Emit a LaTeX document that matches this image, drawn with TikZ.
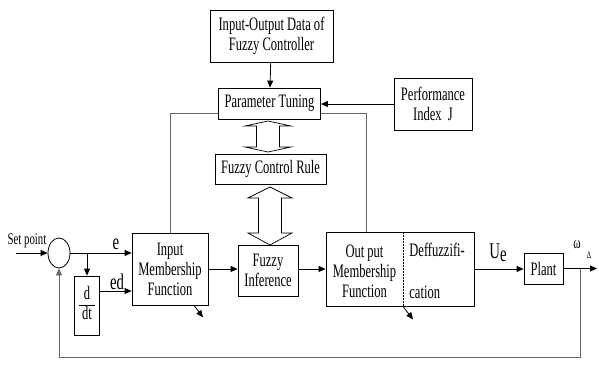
\documentclass[tikz,border=0pt]{standalone}
\usepackage{fontspec}
\setmainfont{Liberation Serif}[FakeStretch=0.66]
\usetikzlibrary{arrows.meta,shapes.geometric}

\begin{document}
\begin{tikzpicture}[x=1pt, y=-1pt,
        font=\fontsize{19}{20}\selectfont, line width=0.8pt,
        blk/.style={draw, inner sep=0pt, align=center},
        arr/.style={-{Triangle[length=7pt,width=6pt]}},
        gline/.style={black!60},
        hollow/.style={draw, fill=white, line width=0.7pt},
        lbl/.style={inner sep=0pt, align=center}
      ]
        \useasboundingbox (0,0) rectangle (599,367);
        % tuning level
        \node[blk, minimum width=123pt, minimum height=52pt] (iodat) at (271.5,36) {Input-Output Data of\\Fuzzy Controller};
        \node[blk, minimum width=102pt, minimum height=31pt] (tune) at (269.5,103.5) {Parameter Tuning};
        \node[blk, minimum width=78pt, minimum height=52pt] (perf) at (433,104) {Performance\\Index~ J};
        \node[blk, minimum width=111pt, minimum height=30pt] (rule) at (270.5,169) {Fuzzy Control Rule};
        % control loop
        \node[draw, ellipse, inner sep=0pt, minimum width=22pt, minimum height=30pt] (sum) at (59,253) {};
        \node[blk, minimum width=25pt, minimum height=59pt] (ddt) at (87,305.5) {\begin{tabular}{@{\,}c@{\,}}d\\\hline dt\end{tabular}};
        \node[blk, minimum width=76pt, minimum height=72pt] (imf) at (170,269) {Input\\Membership\\Function};
        \node[blk, minimum width=60pt, minimum height=51pt] (fi) at (268,270.5) {Fuzzy\\Inference};
        \node[blk, minimum width=148pt, minimum height=74pt] (out) at (400,269) {};
        \node[lbl] (omf) at (364.5,271) {Out put\\Membership\\Function};
        \node[lbl, anchor=west] (dfz) at (409,250) {Deffuzzifi-};
        \node[lbl, anchor=west] (cat) at (409,292) {cation};
        \node[blk, minimum width=39pt, minimum height=31pt] (plant) at (543.5,268.5) {Plant};
        % signal labels
        \node[lbl, font=\fontsize{16.3}{17}\selectfont] (lsp) at (27,241) {Set point};
        \node[lbl, font=\fontsize{22.4}{24}\selectfont] (le) at (116,244) {e};
        \node[lbl, font=\fontsize{22.4}{24}\selectfont] (led) at (117,281.5) {ed};
        \node[lbl, font=\fontsize{22.4}{24}\selectfont] (lue) at (498,253) {U\raisebox{-3pt}{e}};
        \node[lbl, font=\fontsize{16.8}{18}\selectfont] (lw) at (577,245) {ω};
        \node[lbl, font=\fontsize{10}{11}\selectfont] (ldl) at (589,255) {Δ};
        \coordinate (sp) at (16,253);
        \coordinate (br) at (87,253);
        \coordinate (y) at (597,268.5);
        \coordinate (fb) at (580,268.5);
        \coordinate (fbc) at (580,357);
        % connectors
        \draw[arr] (iodat) -- (tune);
        \draw[arr] (perf.west) -- (perf.west -| tune.east);
        \draw[gline] ([yshift=-9.5pt]tune.west) -| (imf.north);
        \draw[gline] ([yshift=-9.5pt]tune.east) -| ([xshift=-34pt]out.north);
        \draw[arr] (sp) -- (sum.west);
        \draw[arr] (sum.east) -- (sum.east -| imf.west);
        \draw[arr] (br) -- (ddt.north);
        \draw[arr] ([yshift=14.5pt]ddt.east) coordinate (edo) -- (edo -| imf.west);
        \draw[arr] (imf.east) -- (imf.east -| fi.west);
        \draw[arr] (fi.east |- out.west) -- (out.west);
        \draw[arr] (out.east) -- (out.east -| plant.west);
        \draw[arr] (plant.east) -- (y);
        \draw[gline, arr] (fb) -- (fbc) -| (sum.south);
        \draw[arr] ([xshift=24pt]imf.south) -- ++(9,12);
        \draw[arr] ([xshift=3pt]out.south) -- ++(10,13);
        \draw[densely dotted, line width=0.5pt] ([xshift=3pt]out.north) -- ([xshift=3pt]out.south);
        % hollow double arrows
        \draw[hollow] (268,121) -- (291,126) -- (279.5,126) -- (279.5,147) -- (291,147) -- (268,152)
          -- (245,147) -- (256.5,147) -- (256.5,126) -- (245,126) -- cycle;
        \draw[hollow] (270,187) -- (292,198) -- (281.5,198) -- (281.5,233) -- (292,233) -- (270,245)
          -- (248,233) -- (258.5,233) -- (258.5,198) -- (248,198) -- cycle;
      \end{tikzpicture}
\end{document}
